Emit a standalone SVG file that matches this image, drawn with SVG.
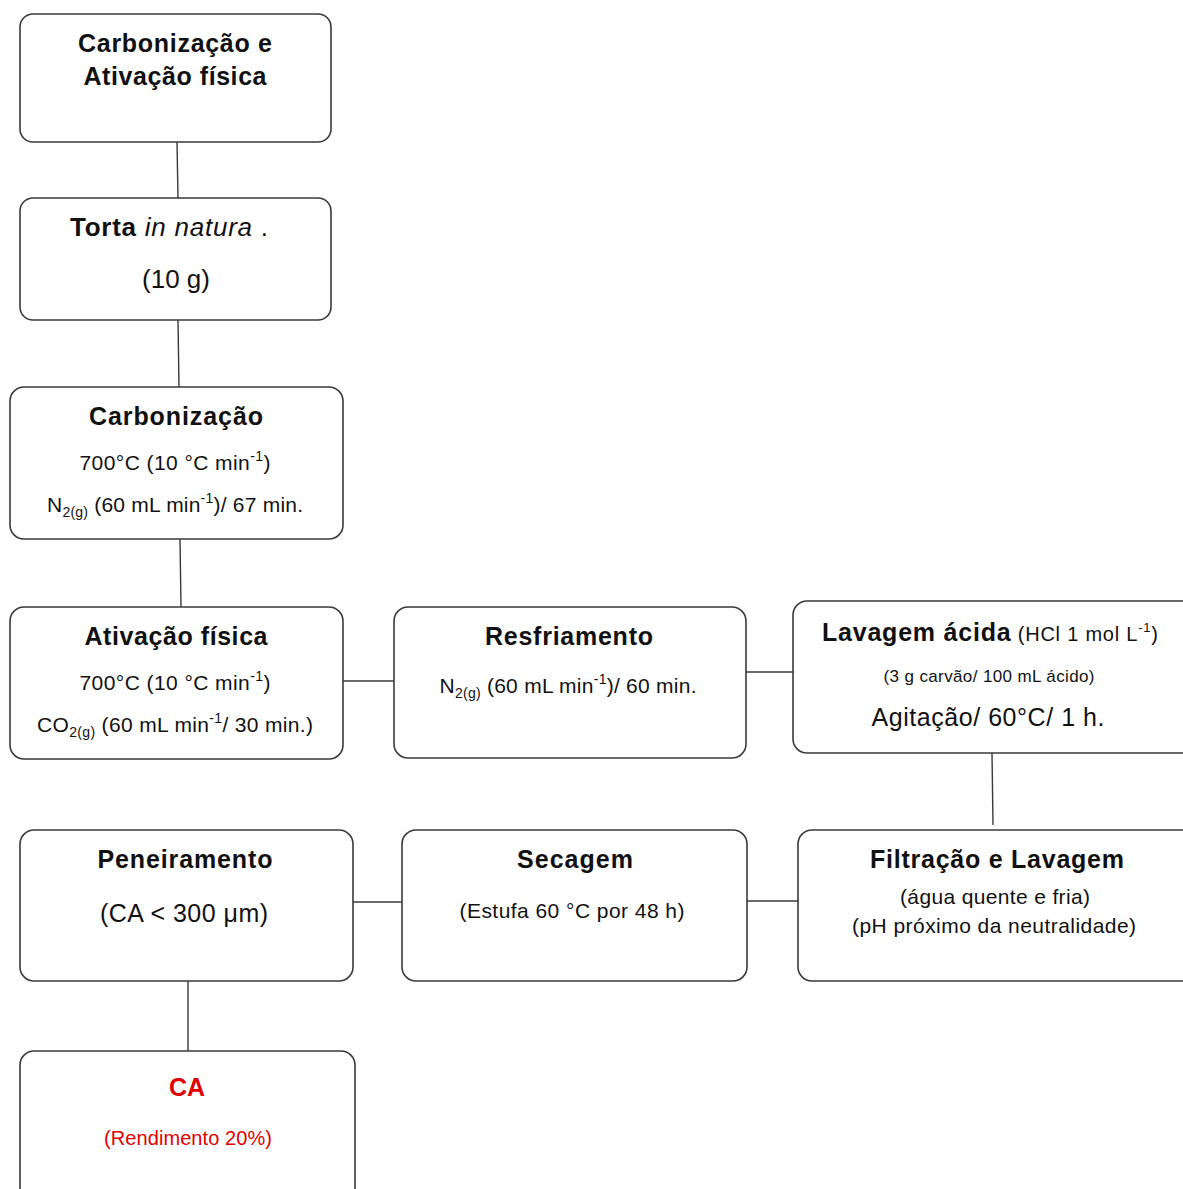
<svg xmlns="http://www.w3.org/2000/svg" width="1183" height="1189" viewBox="0 0 1183 1189">
<style>
.box{fill:#fff;stroke:#3a3a3a;stroke-width:1.6}
.con line{stroke:#3a3a3a;stroke-width:1.4}
text{font-family:"Liberation Sans",Arial,sans-serif;fill:#111;text-anchor:middle}
.h{font-weight:bold;font-size:25px}
.n{font-size:21px}
.r{fill:#e00000}
.sub{font-size:14px}
</style>
<rect width="1183" height="1189" fill="#fff"/>
<g class="con">
<line x1="177" y1="142" x2="178" y2="198"/>
<line x1="178" y1="320" x2="179" y2="387"/>
<line x1="180" y1="539" x2="181" y2="607"/>
<line x1="343" y1="681" x2="394" y2="681"/>
<line x1="746" y1="672" x2="793" y2="672"/>
<line x1="992" y1="753" x2="993" y2="825"/>
<line x1="353" y1="902" x2="402" y2="902"/>
<line x1="747" y1="901" x2="798" y2="901"/>
<line x1="188" y1="981" x2="188" y2="1051"/>
</g>
<g id="n1">
<rect class="box" x="20" y="14" width="311" height="128" rx="13"/>
<text class="h" x="175" y="52" textLength="194">Carbonização e</text>
<text class="h" x="175" y="85" textLength="183">Ativação física</text>
</g>
<g id="n2">
<rect class="box" x="20" y="198" width="311" height="122" rx="13"/>
<text x="169" y="236" font-size="26" textLength="198"><tspan font-weight="bold">Torta</tspan>  <tspan font-style="italic">in natura</tspan> .</text>
<text x="176" y="288" font-size="26">(10 g)</text>
</g>
<g id="n3">
<rect class="box" x="10" y="387" width="333" height="152" rx="14"/>
<text class="h" x="176" y="425" textLength="174">Carbonização</text>
<text class="n" x="175" y="470" textLength="191">700°C (10 °C min<tspan class="sub" dy="-9">-1</tspan><tspan dy="9">)</tspan></text>
<text class="n" x="175" y="512" textLength="256">N<tspan class="sub" dy="5">2(g)</tspan><tspan dy="-5"> (60 mL min</tspan><tspan class="sub" dy="-9">-1</tspan><tspan dy="9">)/ 67 min.</tspan></text>
</g>
<g id="n4">
<rect class="box" x="10" y="607" width="333" height="152" rx="14"/>
<text class="h" x="176" y="645" textLength="183">Ativação física</text>
<text class="n" x="175" y="690" textLength="191">700°C (10 °C min<tspan class="sub" dy="-9">-1</tspan><tspan dy="9">)</tspan></text>
<text class="n" x="175" y="732" textLength="276">CO<tspan class="sub" dy="5">2(g)</tspan><tspan dy="-5"> (60 mL min</tspan><tspan class="sub" dy="-9">-1</tspan><tspan dy="9">/ 30 min.)</tspan></text>
</g>
<g id="n5">
<rect class="box" x="394" y="607" width="352" height="151" rx="14"/>
<text class="h" x="569" y="645" textLength="168">Resfriamento</text>
<text class="n" x="568" y="693" textLength="257">N<tspan class="sub" dy="5">2(g)</tspan><tspan dy="-5"> (60 mL min</tspan><tspan class="sub" dy="-9">-1</tspan><tspan dy="9">)/ 60 min.</tspan></text>
</g>
<g id="n6">
<rect class="box" x="793" y="601" width="410" height="152" rx="14"/>
<text x="990" y="641" textLength="336"><tspan font-weight="bold" font-size="25">Lavagem ácida</tspan><tspan font-size="20"> (HCl 1 mol L</tspan><tspan font-size="13" dy="-9">-1</tspan><tspan font-size="20" dy="9">)</tspan></text>
<text x="989" y="682" font-size="17" textLength="211">(3 g carvão/ 100 mL ácido)</text>
<text x="988" y="726" font-size="25" textLength="233">Agitação/ 60°C/ 1 h.</text>
</g>
<g id="n7">
<rect class="box" x="20" y="830" width="333" height="151" rx="14"/>
<text class="h" x="185" y="868" textLength="175">Peneiramento</text>
<text x="184" y="922" font-size="25" textLength="168">(CA &lt; 300 μm)</text>
</g>
<g id="n8">
<rect class="box" x="402" y="830" width="345" height="151" rx="14"/>
<text class="h" x="575" y="868" textLength="116">Secagem</text>
<text class="n" x="572" y="918" textLength="225">(Estufa 60 °C por 48 h)</text>
</g>
<g id="n9">
<rect class="box" x="798" y="830" width="400" height="151" rx="14"/>
<text class="h" x="997" y="868" textLength="254">Filtração e Lavagem</text>
<text class="n" x="995" y="904" textLength="190">(água quente e fria)</text>
<text class="n" x="994" y="933" textLength="284">(pH próximo da neutralidade)</text>
</g>
<g id="n10">
<rect class="box" x="20" y="1051" width="335" height="160" rx="14"/>
<text class="h r" x="187" y="1096">CA</text>
<text class="r" x="188" y="1145" font-size="20" textLength="168">(Rendimento 20%)</text>
</g>
</svg>
